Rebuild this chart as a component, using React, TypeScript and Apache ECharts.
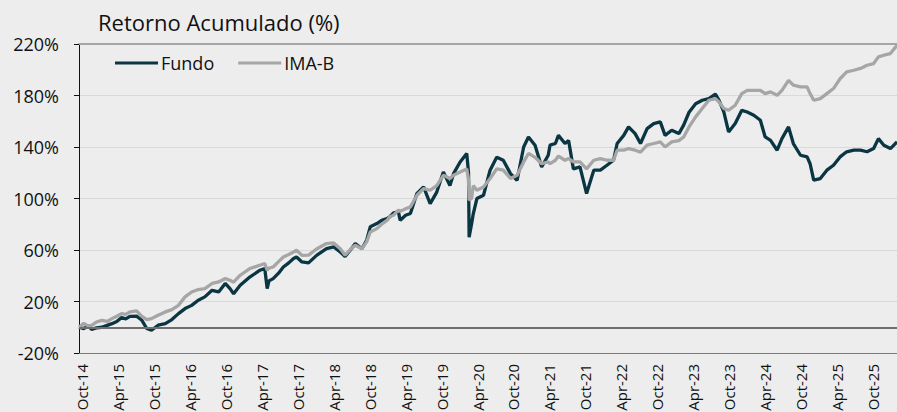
import React, { useEffect, useRef } from "react";
import * as echarts from "echarts";

// Month index: 0 = Oct-14, 6 = Apr-15, ...
const months = [
  -0.5, 0.3, 1.0, 1.6, 2.4, 3.3, 4.2, 5.0, 5.8, 6.6, 7.3, 8.0, 9.1, 10.0, 10.8, 11.6, 12.7, 13.9, 15.0, 16.1,
  17.2, 18.3, 19.4, 20.5, 21.7, 22.8, 23.9, 24.7, 25.3, 26.4, 28.0, 29.7, 30.5, 30.9, 31.2, 31.9, 32.8, 33.6, 34.5, 35.3,
  35.8, 36.7, 37.8, 39.2, 40.8, 42.0, 43.1, 43.9, 44.8, 45.6, 46.7, 47.5, 48.1, 49.2, 50.0, 50.9, 51.4, 52.0, 52.8, 53.1,
  54.0, 54.8, 55.9, 57.0, 58.1, 59.2, 60.3, 61.4, 62.0, 63.1, 64.2, 64.5, 64.6, 65.0, 65.3, 65.9, 67.0, 68.1, 69.2, 70.3,
  71.5, 72.6, 73.7, 74.5, 75.6, 76.7, 77.8, 78.1, 79.0, 79.5, 80.6, 81.2, 82.0, 83.1, 84.2, 85.4, 86.5, 87.6, 88.7, 89.3,
  90.4, 91.2, 92.3, 93.2, 94.3, 95.4, 96.5, 97.3, 98.4, 99.6, 100.4, 101.3, 102.4, 103.5, 104.6, 105.7, 106.3, 107.1, 107.9, 109.0,
  110.1, 111.0, 112.1, 113.2, 114.0, 114.9, 116.0, 116.8, 117.9, 118.7, 119.9, 121.0, 121.5, 122.1, 123.2, 124.3, 125.4, 126.5, 127.6, 128.8,
  129.9, 131.0, 132.1, 132.9, 133.8, 134.9, 136.0,
];

const fundo = [
  0, -1.0, 1.0, -1.6, -0.5, 0, 1.5, 2.8, 4.5, 7.5, 6.5, 8.5, 8.6, 5.4, -1.0, -2.3, 1.6, 2.8, 6.0, 10.6,
  14.5, 17, 21, 23.6, 28.7, 27.4, 34, 30, 26, 32.6, 39, 44.3, 45.6, 30, 36, 37.8, 42, 46.8, 50, 53.4,
  54.6, 50.7, 50, 56, 61, 62.4, 58.5, 55, 60, 65, 61, 67.6, 78, 80.5, 83, 84.4, 86, 88.8, 89.6, 83,
  87, 88.3, 104, 109, 96, 105, 120.6, 110, 119.3, 128.4, 135, 120, 70, 80, 88.3, 100, 102.5, 122, 132, 129.7,
  119.3, 114, 140, 147.8, 141.4, 124.5, 133.6, 141.4, 142.7, 149, 142.7, 145, 123, 124.5, 103.8, 122, 122, 125.8, 129.7, 142.7,
  149, 155.6, 150.4, 142.7, 154.3, 158.2, 159.5, 149, 153, 150.4, 157, 167, 173.6, 176.3, 177.6, 181, 176.3, 167.2, 151.7, 158.2,
  168.5, 167.2, 164.7, 160.8, 147.8, 145.2, 137.5, 146.5, 155.6, 142.7, 133.6, 132.3, 127, 114.2, 115.5, 122, 125.8, 132.3, 136.3, 137.5,
  137.5, 136.3, 138.8, 146.5, 141.4, 138.8, 144,
];

const imaB = [
  0, 3.0, 1.0, 1.5, 4.0, 5.4, 4.5, 6.7, 8.5, 10.6, 10.0, 11.9, 12.7, 8.5, 6.0, 6.7, 9.3, 11.9, 13.7, 17,
  23.6, 27.4, 29.3, 30, 34, 35.2, 37.8, 36.5, 35, 40.4, 45.6, 48.2, 49.5, 44.3, 46, 46.8, 51, 54.6, 56.5, 58.5,
  59.8, 55.9, 56, 61, 65, 65.5, 61, 56, 60.5, 63.7, 61, 66.3, 74, 76.6, 80, 83, 86, 87, 91, 90,
  92, 93.5, 102.5, 107.7, 106.4, 110, 118, 115.5, 118, 120.6, 123, 115, 98.6, 100, 110, 106.4, 109, 115.5, 123, 122,
  115.5, 118, 128.4, 135, 132, 127, 128.4, 127, 129.7, 133, 129.7, 131, 128.4, 128.4, 123, 129.7, 131, 129.7, 129.7, 137.5,
  137.5, 138.8, 137.5, 136, 141.4, 142.7, 144, 140, 144, 145, 147.8, 155.6, 163.4, 169.9, 176.3, 177.6, 175, 169.9, 168.5, 172.4,
  181.5, 184, 184, 184, 181.5, 182.8, 180.2, 184, 191.8, 188, 186.7, 186.7, 181.5, 176.3, 177.6, 181.5, 185.4, 193, 198.3, 199.6,
  201, 203.5, 204.8, 210, 211.3, 212.6, 219,
];

const xTickLabels = [
  "Oct-14", "Apr-15", "Oct-15", "Apr-16", "Oct-16", "Apr-17", "Oct-17", "Apr-18", "Oct-18", "Apr-19", "Oct-19", "Apr-20",
  "Oct-20", "Apr-21", "Oct-21", "Apr-22", "Oct-22", "Apr-23", "Oct-23", "Apr-24", "Oct-24", "Apr-25", "Oct-25",
];
const xTickPositions = xTickLabels.map((_, i) => i * 6);

const yTicks = [-20, 20, 60, 100, 140, 180, 220];

const FONT = "'Open Sans', Lato, 'DejaVu Sans', sans-serif";

export default function App() {
  const ref = useRef<HTMLDivElement>(null);
  useEffect(() => {
    if (!ref.current) return;
    const chart = echarts.init(ref.current, undefined, { renderer: "svg" });
    const labelFor = (v: number) => {
      const idx = xTickPositions.indexOf(Math.round(v));
      return idx >= 0 ? xTickLabels[idx] : "";
    };
    chart.setOption({
      animation: false,
      backgroundColor: "#ededed",
      textStyle: { fontFamily: FONT },
      title: {
        text: "Retorno Acumulado (%)",
        left: 93,
        top: 6,
        textStyle: { fontFamily: FONT, fontSize: 22, fontWeight: "normal", color: "#111" },
      },
      legend: {
        left: 110,
        top: 49,
        itemWidth: 43,
        itemHeight: 3,
        itemGap: 24,
        textStyle: { fontFamily: FONT, fontSize: 18, color: "#111", padding: [0, 0, 0, -2] },
        data: [
          { name: "Fundo", icon: "rect" },
          { name: "IMA-B", icon: "rect" },
        ],
      },
      grid: { left: 79, right: 0, top: 44, bottom: 59, containLabel: false, outerBoundsMode: "none" },
      xAxis: [
        {
          type: "value",
          min: -0.5,
          max: 136,
          splitLine: { show: false },
          axisLine: { show: true, onZero: false, lineStyle: { color: "#7a7a7a", width: 1 } },
          axisTick: { show: false, customValues: xTickPositions },
          axisLabel: {
            customValues: xTickPositions,
            rotate: 90,
            margin: 11,
            fontSize: 15,
            color: "#111",
            fontFamily: FONT,
            formatter: (v: number) => labelFor(v),
          },
        },
        {
          type: "value",
          position: "top",
          min: -0.5,
          max: 136,
          splitLine: { show: false },
          axisLine: { show: true, onZero: false, lineStyle: { color: "#a6a6a6", width: 2 } },
          axisTick: { show: false },
          axisLabel: { show: false },
        },
      ],
      yAxis: {
        type: "value",
        min: yTicks[0],
        max: yTicks[yTicks.length - 1],
        interval: 40,
        axisLine: { show: true, onZero: false, lineStyle: { color: "#111", width: 1 } },
        axisTick: { show: true, inside: false, length: 5, lineStyle: { color: "#111" } },
        splitLine: { show: true, lineStyle: { color: "#d9d9d9", width: 1 } },
        axisLabel: {
          margin: 20,
          fontSize: 18,
          color: "#111",
          fontFamily: FONT,
          formatter: (v: number) => `${v}%`,
        },
      },
      series: [
        {
          name: "Fundo",
          type: "line",
          data: months.map((m, i) => [m, fundo[i]]),
          showSymbol: false,
          symbol: "none",
          lineStyle: { color: "#0a3542", width: 3.3 },
          itemStyle: { color: "#0a3542" },
          markLine: {
            silent: true,
            symbol: "none",
            label: { show: false },
            lineStyle: { color: "#6e6e6e", width: 1.8, type: "solid" },
            data: [{ yAxis: 0 }],
          },
          z: 3,
        },
        {
          name: "IMA-B",
          type: "line",
          data: months.map((m, i) => [m, imaB[i]]),
          showSymbol: false,
          symbol: "none",
          lineStyle: { color: "#a6a6a6", width: 3.3 },
          itemStyle: { color: "#a6a6a6" },
          z: 4,
        },
      ],
    });
    return () => chart.dispose();
  }, []);
  return (
    <div
      ref={ref}
      style={{ position: "fixed", left: 0, top: 0, width: 897, height: 412, background: "#ededed" }}
    />
  );
}
